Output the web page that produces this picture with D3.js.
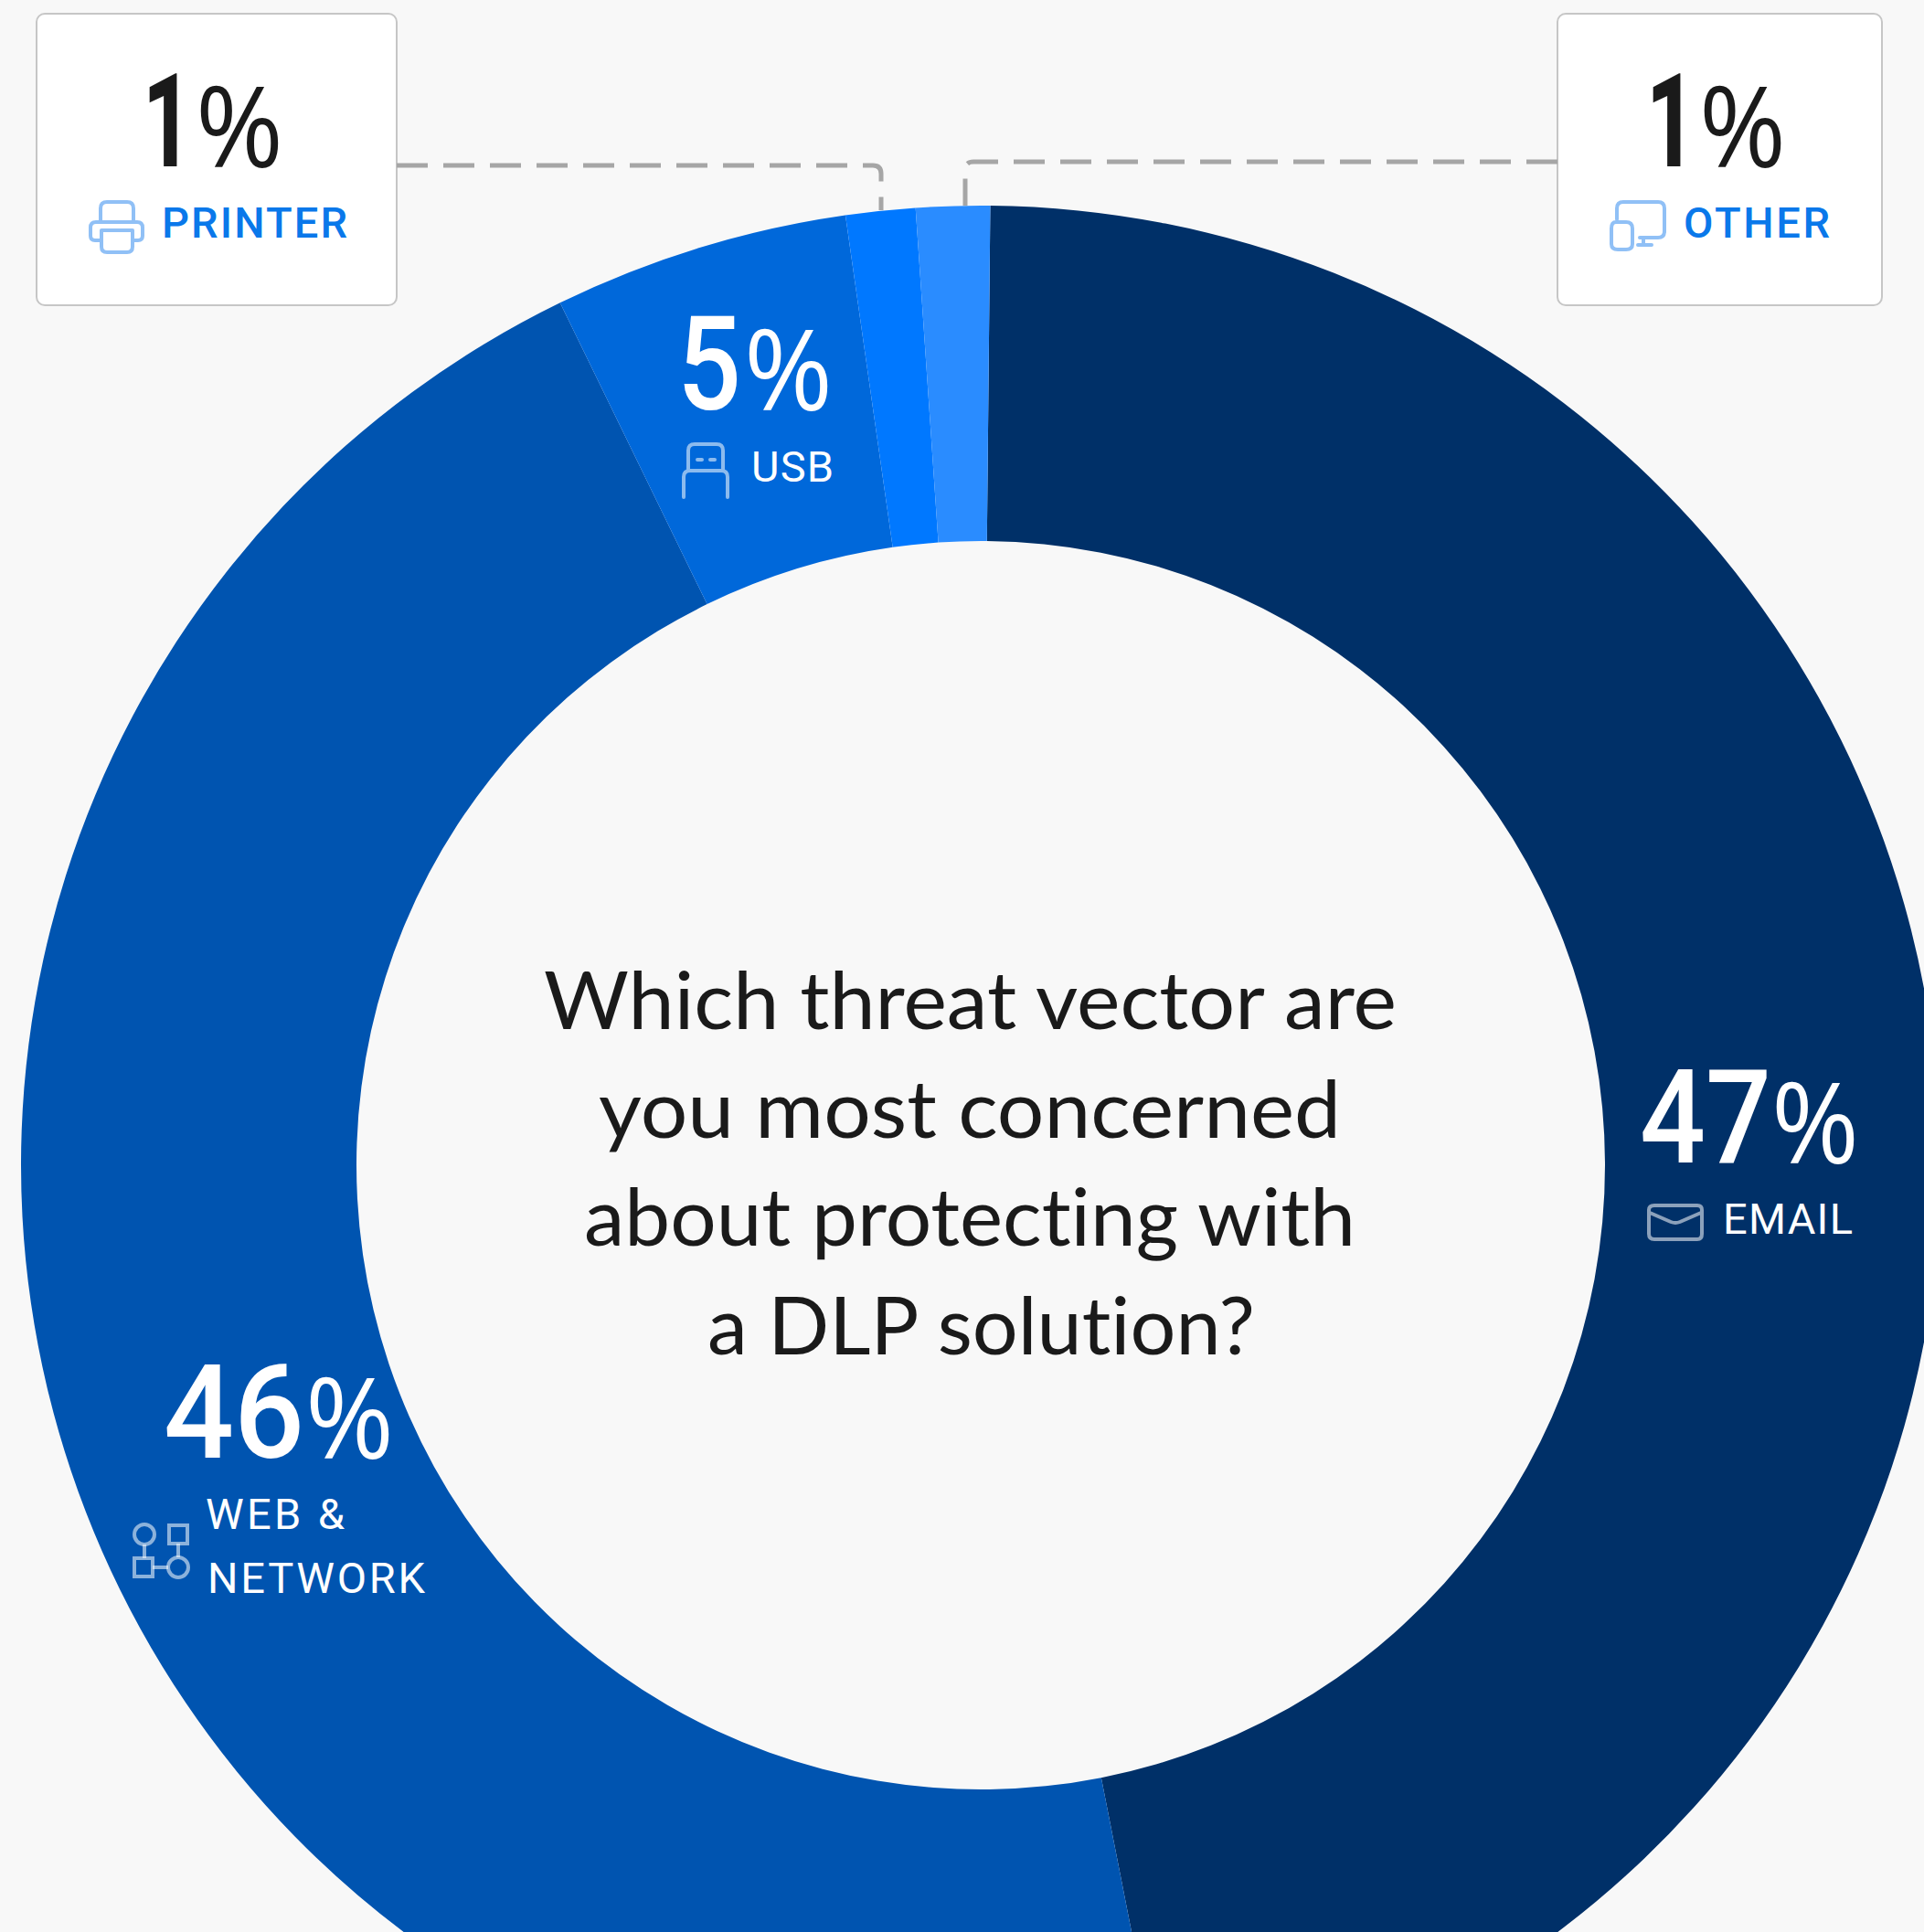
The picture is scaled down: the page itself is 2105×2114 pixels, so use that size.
<!DOCTYPE html>
<html><head><meta charset="utf-8">
<script src="https://cdn.jsdelivr.net/npm/d3@7/dist/d3.min.js"></script>
<style>html,body{margin:0;padding:0;background:#f8f8f8}svg{display:block}text{font-family:Lato,sans-serif;font-variant-ligatures:none}</style>
</head><body>
<script>
// Data
const categories = ["Email", "Web & Network", "USB", "Printer", "Other"];
const printedPercents = [47, 46, 5, 1, 1];
const drawnShares = [46.75, 45.87, 4.97, 1.17, 1.24];   // slice sizes as actually drawn
const sliceColors = ["#003068", "#0054b0", "#0068da", "#0078ff", "#2a8cff"];
const titleLines = ["Which threat vector are", "you most concerned", "about protecting with", "a DLP solution?"];

const W = 2105, H = 2114, cx = 1073, cy = 1275, rOuter = 1050, rInner = 683;
const svg = d3.select("body").append("svg").attr("width", W).attr("height", H);
svg.append("rect").attr("width", W).attr("height", H).attr("fill", "#f8f8f8");

const rot = 0.57 * Math.PI / 180;
const pie = d3.pie().sort(null).value(d => d).startAngle(rot).endAngle(rot + 2 * Math.PI);
const arc = d3.arc().innerRadius(rInner).outerRadius(rOuter);
svg.append("g").attr("transform", `translate(${cx},${cy})`)
  .selectAll("path").data(pie(drawnShares)).join("path")
  .attr("d", arc).attr("fill", (d, i) => sliceColors[i]);

// Callout boxes
const boxes = [{x:40,y:15,w:394,h:319},{x:1704,y:15,w:355,h:319}];
svg.selectAll("rect.box").data(boxes).join("rect").attr("class","box")
  .attr("x",d=>d.x).attr("y",d=>d.y).attr("width",d=>d.w).attr("height",d=>d.h)
  .attr("rx",9).attr("fill","#fff").attr("stroke","#c6c6c6").attr("stroke-width",2);

// Leader lines
const leaders = ["M434,181H955Q964,181 964,190V230", "M1704,177H1065Q1056,177 1056,186V225"];
svg.selectAll("path.leader").data(leaders).join("path").attr("class","leader")
  .attr("d",d=>d).attr("fill","none").attr("stroke","#a6a6a6").attr("stroke-width",5)
  .attr("stroke-dasharray","34 17");

function txt(s,x0,x1,base,size,weight,fill,family,adjust){
  svg.append("text").text(s).attr("x",x0).attr("y",base)
    .style("font-family",family)
    .attr("font-size",size).attr("font-weight",weight).attr("fill",fill)
    .attr("textLength",x1-x0).attr("lengthAdjust",adjust);
}
// text fitted to a width by a horizontal scale, so its box stays true
function fit(s,x0,x1,base,size,weight,fill,family){
  const t=svg.append("text").text(s).attr("font-size",size).attr("font-weight",weight)
    .attr("fill",fill).style("font-family",family);
  const k=(x1-x0)/t.node().getComputedTextLength();
  t.attr("transform",`translate(${x0},${base}) scale(${k},1)`);
}
const DARK="#1a1a1a", BLUE="#0a78ea", WHITE="#ffffff";
const P=(v,a,b,c,d,y,col,w)=>{
  fit(String(v),a-4,b+3,y,143,w,col,"Roboto");
  fit("%",c-4,d+4,y+1,122,500,col,"Open Sans");
};
const L=(s,a,b,y,c,w)=>txt(s,a,b,y,47,w,c,"Roboto","spacing");
P(printedPercents[3],160,207,218,306,182,DARK,800);
P(printedPercents[4],1805,1852,1863,1950,182,DARK,800);
P(printedPercents[2],745,808,818,907,448,WHITE,500);
P(printedPercents[0],1798,1935,1942,2030,1272,WHITE,500);
P(printedPercents[1],183,330,338,427,1595,WHITE,500);
L("PRINTER",177,380,260,BLUE,500);
L("OTHER",1842,2002,260,BLUE,500);
L("USB",822,912,527,WHITE,400);
L("EMAIL",1885,2027,1350,WHITE,400);
L("WEB &",225,377,1673,WHITE,400);
L("NETWORK",227,465,1743,WHITE,400);

const titleX=[[595,1528],[655,1467],[639,1483],[774,1373]];
const titleBase=[1126,1245,1363,1482];
titleLines.forEach((s,i)=>txt(s,titleX[i][0],titleX[i][1],titleBase[i],88,400,DARK,"Lato","spacingAndGlyphs"));

// Icons
const icon=(d,c)=>svg.append("path").attr("d",d).attr("fill","none").attr("stroke",c).attr("stroke-width",4).attr("stroke-linejoin","round").attr("stroke-linecap","round");
const LB="#90c0f6";
icon("M110,243V228Q110,221 117,221H139Q146,221 146,228V243M110,263H104Q99,263 99,258V249Q99,243 105,243H150Q156,243 156,249V258Q156,263 151,263H145M111,252H145V270Q145,276 139,276H117Q111,276 111,270Z",LB);
icon("M1769,240V228Q1769,221 1776,221H1814Q1821,221 1821,228V253Q1821,260 1814,260H1794M1798,262V268M1792,268H1807M1768,243H1779Q1786,243 1786,250V267Q1786,273 1779,273H1770Q1763,273 1763,267V250Q1763,243 1768,243Z",LB);
const W50="rgba(255,255,255,0.55)";
icon("M753,515V493Q753,486 760,486H784Q791,486 791,493V515M748,544V522Q748,515 755,515H789Q796,515 796,522V544M763,503H768M777,503H782",W50);
icon("M1810,1319H1857Q1862,1319 1862,1324V1350Q1862,1356 1857,1356H1810Q1804,1356 1804,1350V1324Q1804,1319 1810,1319ZM1805,1327L1828,1337Q1833,1339 1838,1337L1861,1327",W50);
svg.append("g").attr("fill","none").attr("stroke",W50).attr("stroke-width",4).call(g=>{
  g.append("circle").attr("cx",158).attr("cy",1679).attr("r",11);
  g.append("rect").attr("x",185).attr("y",1669).attr("width",20).attr("height",20);
  g.append("rect").attr("x",147).attr("y",1705).attr("width",20).attr("height",20);
  g.append("circle").attr("cx",195).attr("cy",1715).attr("r",11);
  g.append("path").attr("d","M158,1690V1705M195,1689V1704M167,1715H184");
});
</script>
</body></html>
